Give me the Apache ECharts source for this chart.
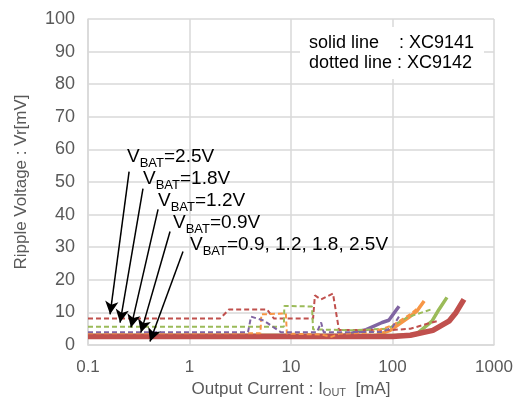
<!DOCTYPE html>
<html>
<head>
<meta charset="utf-8">
<script src="https://cdn.jsdelivr.net/npm/echarts@6/dist/echarts.min.js"></script>
<style>
  html, body { margin: 0; padding: 0; background: #fff; }
  #chart { width: 520px; height: 412px; }
</style>
</head>
<body>
<div id="chart"></div>
<script>
// ripple voltage vs output current, [mA, mV] pairs
// solid = XC9141
var solid09 = [[0.1, 2.9], [33, 3], [55, 4.7], [79, 6.9], [92, 7.6], [116, 11.9]]
var solid12 = [[0.1, 2.9], [70, 3], [95, 4.5], [145, 8.5], [175, 10.5], [205, 13.5]]
var solid18 = [[0.1, 2.9], [110, 3], [170, 3.2], [245, 7.3], [287, 10.9], [344, 14.6]]
var solid25 = [[0.1, 2.6], [100, 2.6], [150, 3], [250, 4.5], [360, 7.3], [423, 10], [506, 14]]
// dotted = XC9142
var dot25 = [[0.1, 8.1], [2.0, 8.1], [2.45, 10.9], [5.8, 10.9], [6.8, 8.1], [16.5, 8.1], [17.2, 15.2],
  [19.8, 14], [25.9, 15.8], [29.7, 4.6], [100, 4.6], [150, 5], [220, 6.5], [287, 7.5]]
var dot18 = [[0.1, 5.6], [8.5, 5.6], [8.6, 12], [16.1, 11.8], [16.5, 4.8], [40, 4.5], [90, 5],
  [140, 8.5], [245, 11]]
var dot12 = [[0.1, 3.6], [5.0, 3.6], [5.1, 9.4], [8.9, 9.7], [9.1, 3.5], [20, 3.2], [25, 2.5],
  [30, 3.5], [60, 3.8], [100, 6], [150, 9.5], [195, 12.4]]
var dot09 = [[0.1, 3.9], [3.77, 3.9], [4.04, 8.7], [5.4, 7.5], [7.96, 3.9], [18, 3.9], [19.8, 6.9],
  [21, 3.9], [80, 4], [100, 5.5], [120, 9.5]]

var yTicks = [0, 100, 10]
var labels = ['2.5V', '1.8V', '1.2V', '0.9V', '0.9, 1.2, 1.8, 2.5V']
// arrows: [start, end] in data coords
var arrows = [
  [[0.254, 53.2], [0.165, 9.4]],
  [[0.348, 48], [0.207, 6.9]],
  [[0.49, 41.6], [0.265, 5.4]],
  [[0.643, 34.8], [0.332, 3.8]],
  [[0.863, 28.7], [0.408, 1.1]]
]

var RED = '#C0504D', GREEN = '#9BBB59', PURPLE = '#8064A2', ORANGE = '#F79646'
var FONT = 'Liberation Sans, Arial, sans-serif'

function solid(data, color, width) {
  return { type: 'line', data: data, symbol: 'none', silent: true,
    lineStyle: { color: color, width: width }, z: 2 }
}
function dotted(data, color) {
  return { type: 'line', data: data, symbol: 'none', silent: true,
    lineStyle: { color: color, width: 2, type: [5, 3] }, z: 4 }
}

var chart = echarts.init(document.getElementById('chart'))

var series = [
  solid(solid09, PURPLE, 3.5),
  solid(solid12, ORANGE, 3.5),
  solid(solid18, GREEN, 3.5),
  solid(solid25, RED, 5.5),
  dotted(dot25, RED),
  dotted(dot18, GREEN),
  dotted(dot12, ORANGE),
  dotted(dot09, PURPLE)
]
series[3].z = 3
series[3].markLine = {
  silent: true,
  symbol: ['none', 'arrow'],
  symbolSize: [10, 13],
  label: { show: false },
  lineStyle: { color: '#000', width: 1.5, type: 'solid' },
  data: arrows.map(function (a) { return [{ coord: a[0] }, { coord: a[1] }] }),
  animation: false
}

var sub = {
  a: { fontFamily: FONT, fontSize: 19, color: '#000', padding: [0, 0, 4, 0] },
  b: { fontFamily: FONT, fontSize: 13, color: '#000', verticalAlign: 'bottom', lineHeight: 13 }
}
var labelPos = [[127, 147], [143, 169], [158, 191], [173, 213], [190, 235]]
var graphics = labels.map(function (t, i) {
  return { type: 'text', left: labelPos[i][0], top: labelPos[i][1], z: 10,
    style: { text: '{a|V}{b|BAT}{a|=' + t + '}', rich: sub } }
})
graphics.push({ type: 'rect', left: 300, top: 27, z: 5,
  shape: { width: 184, height: 52 }, style: { fill: '#fff' } })
graphics.push({ type: 'text', left: 309, top: 33, z: 6,
  style: { text: 'solid line    : XC9141\ndotted line : XC9142', fontFamily: FONT,
    fontSize: 18, lineHeight: 20, fill: '#000' } })

chart.setOption({
  animation: false,
  grid: { left: 88, right: 26, top: 19, bottom: 67 },
  xAxis: {
    type: 'log', logBase: 10, min: 0.1, max: 1000,
    name: 'Output Current : I{s|OUT}  [mA]',
    nameLocation: 'middle', nameGap: 31,
    nameTextStyle: { fontFamily: FONT, fontSize: 17, color: '#595959',
      rich: { s: { fontFamily: FONT, fontSize: 11, color: '#595959', verticalAlign: 'bottom', padding: [8, 0, 0, 0] } } },
    axisLine: { show: true, lineStyle: { color: '#D9D9D9', width: 1.5 } },
    axisTick: { show: false },
    minorTick: { show: false },
    axisLabel: { fontFamily: FONT, fontSize: 17, color: '#595959', margin: 14,
      formatter: function (v) { return String(v) } },
    splitLine: { show: true, lineStyle: { color: '#D9D9D9', width: 1.5 } }
  },
  yAxis: {
    type: 'value', min: yTicks[0], max: yTicks[1], interval: yTicks[2],
    name: 'Ripple Voltage : Vr[mV]', nameLocation: 'middle', nameGap: 58,
    nameTextStyle: { fontFamily: FONT, fontSize: 17, color: '#595959' },
    axisLine: { show: true, lineStyle: { color: '#D9D9D9', width: 1.5 } },
    axisTick: { show: false },
    axisLabel: { fontFamily: FONT, fontSize: 18, color: '#595959', margin: 13 },
    splitLine: { show: true, lineStyle: { color: '#D9D9D9', width: 1.5 } }
  },
  graphic: graphics,
  series: series
})
</script>
</body>
</html>
